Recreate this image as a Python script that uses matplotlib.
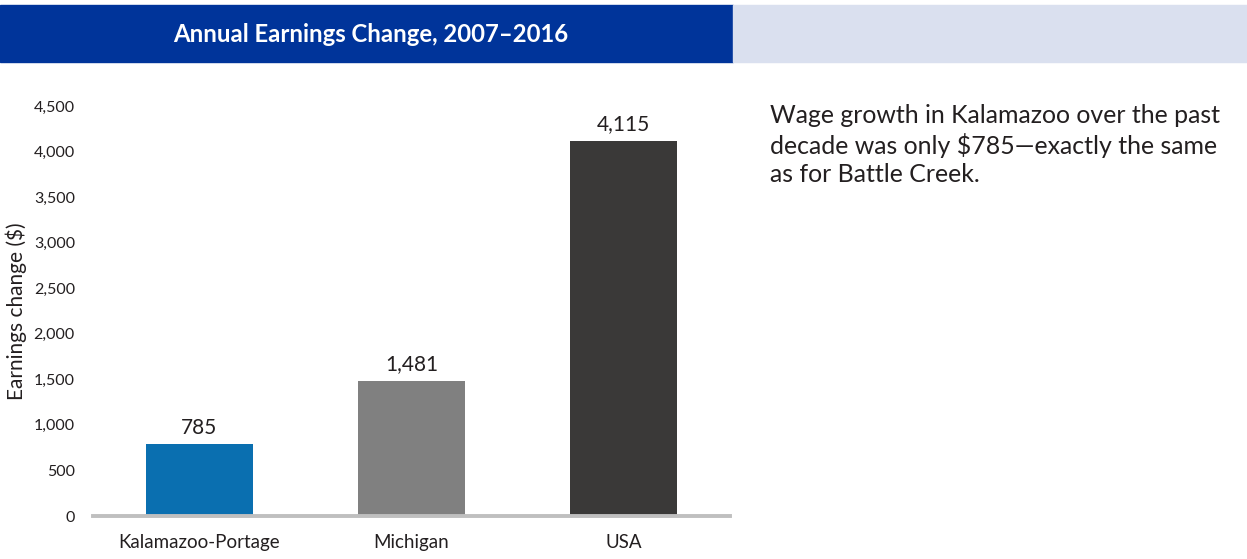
import matplotlib.pyplot as plt
from matplotlib.patches import Rectangle
from matplotlib.ticker import FuncFormatter

plt.rcParams["font.family"] = ["Lato", "DejaVu Sans"]

regions = ["Kalamazoo-Portage", "Michigan", "USA"]
earnings_change = [785, 1481, 4115]
bar_colors = ["#0A6FB0", "#808080", "#3A3938"]
yticks = [0, 500, 1000, 1500, 2000, 2500, 3000, 3500, 4000, 4500]

title = "Annual Earnings Change, 2007\u20132016"
note = ("Wage growth in Kalamazoo over the past\n"
        "decade was only $785\u2014exactly the same\n"
        "as for Battle Creek.")
txt = "#231F20"

fig = plt.figure(figsize=(12.47, 5.59), dpi=100)

# header bands
fig.patches.append(Rectangle((0, 1 - 62 / 559), 733 / 1247, 57 / 559,
                             transform=fig.transFigure, color="#00349A", zorder=0))
fig.patches.append(Rectangle((733 / 1247, 1 - 62 / 559), 1 - 733 / 1247, 57 / 559,
                             transform=fig.transFigure, color="#DAE0EF", zorder=0))
fig.text(371 / 1247, 1 - 34 / 559, title, color="white", fontsize=17.2,
         fontweight="bold", ha="center", va="center")

ax = fig.add_axes([93 / 1247, 1 - 516 / 559, 637 / 1247, 410 / 559])
bars = ax.bar(range(len(regions)), earnings_change, width=0.505, color=bar_colors)
ax.set_xlim(-0.5, len(regions) - 0.5)
ax.set_ylim(0, 4500)
ax.set_yticks(yticks)
ax.yaxis.set_major_formatter(FuncFormatter(lambda v, p: f"{int(v):,}"))
ax.set_xticks(range(len(regions)))
ax.set_xticklabels(regions, fontsize=13.5, color=txt)
ax.tick_params(axis="both", length=0, colors=txt)
ax.tick_params(axis="y", labelsize=11.5, pad=13)
ax.tick_params(axis="x", pad=13)
for s in ["top", "right", "left"]:
    ax.spines[s].set_visible(False)
ax.spines["bottom"].set_color("#BFBFBF")
ax.spines["bottom"].set_linewidth(2.8)
ax.set_ylabel("Earnings change ($)", fontsize=15, color=txt, labelpad=5)

for b, v in zip(bars, earnings_change):
    ax.annotate(f"{v:,}", (b.get_x() + b.get_width() / 2, v), xytext=(0, 5),
                textcoords="offset points", ha="center", va="bottom",
                fontsize=15, color=txt)

fig.text(770 / 1247, 1 - 104 / 559, note, fontsize=17.9, color=txt,
         ha="left", va="top", linespacing=1.27)

fig.savefig("out.png", dpi=100)
